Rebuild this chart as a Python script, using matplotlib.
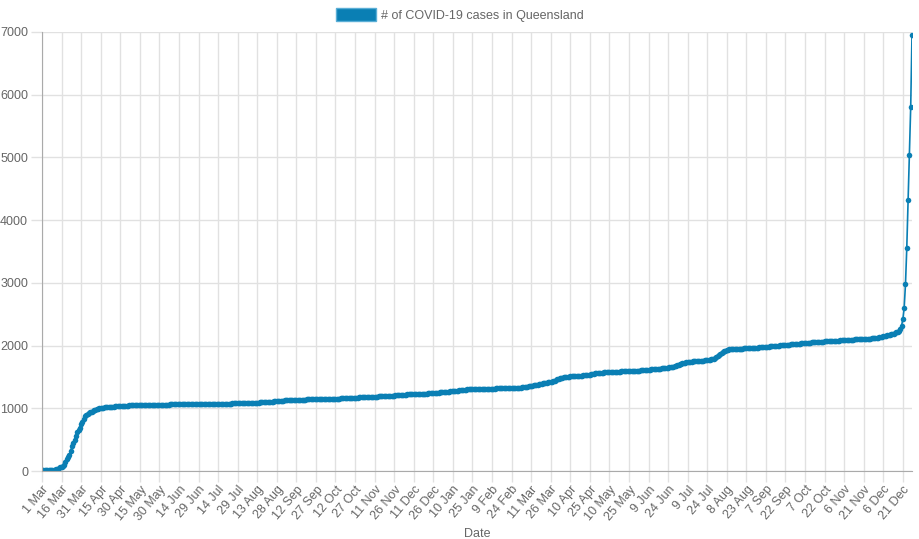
import numpy as np
import pandas as pd
import matplotlib
matplotlib.use('Agg')
import matplotlib.pyplot as plt

plt.rcParams['font.family'] = ['Liberation Sans', 'DejaVu Sans']

# 累计病例数 (每日), 2020-03-01 至 2021-12-28
cases_2020 = [
    # Mar
    9, 9, 10, 11, 13, 13, 15, 15, 15, 18, 20, 27, 35, 46, 61, 68, 78, 94, 144, 184, 221, 259, 319, 397, 443, 493, 555, 625, 656, 689, 743,
    # Apr
    781, 835, 873, 900, 907, 921, 934, 943, 953, 965, 974, 983, 987, 999, 1001, 1007, 1007, 1015, 1019, 1024, 1024, 1026, 1026, 1026, 1027, 1030, 1033, 1033, 1033, 1033,
    # May
    1034, 1035, 1035, 1035, 1038, 1043, 1045, 1045, 1051, 1052, 1054, 1054, 1054, 1055, 1056, 1056, 1056, 1057, 1057, 1057, 1057, 1058, 1058, 1058, 1058, 1058, 1058, 1058, 1058, 1058, 1058,
    # Jun
    1058, 1058, 1059, 1059, 1060, 1060, 1061, 1061, 1062, 1062, 1062, 1063, 1063, 1063, 1064, 1064, 1064, 1064, 1065, 1065, 1065, 1066, 1066, 1066, 1066, 1066, 1067, 1067, 1067, 1067,
    # Jul
    1067, 1067, 1067, 1068, 1068, 1068, 1069, 1069, 1070, 1070, 1070, 1071, 1071, 1071, 1072, 1072, 1073, 1073, 1074, 1074, 1075, 1075, 1076, 1076, 1077, 1077, 1078, 1078, 1078, 1079, 1080,
    # Aug
    1081, 1082, 1083, 1083, 1084, 1085, 1086, 1086, 1087, 1088, 1089, 1090, 1091, 1092, 1093, 1094, 1095, 1096, 1097, 1098, 1099, 1101, 1103, 1105, 1107, 1109, 1111, 1113, 1115, 1117, 1119,
    # Sep
    1121, 1123, 1125, 1127, 1128, 1129, 1130, 1131, 1132, 1133, 1134, 1135, 1136, 1137, 1138, 1139, 1139, 1140, 1140, 1141, 1141, 1142, 1142, 1143, 1143, 1144, 1144, 1145, 1145, 1146,
    # Oct
    1147, 1147, 1148, 1148, 1149, 1149, 1150, 1150, 1151, 1152, 1152, 1153, 1154, 1155, 1156, 1157, 1158, 1159, 1160, 1161, 1162, 1163, 1164, 1165, 1166, 1167, 1168, 1169, 1170, 1172, 1174,
    # Nov
    1175, 1176, 1177, 1178, 1179, 1180, 1181, 1182, 1183, 1184, 1185, 1186, 1187, 1188, 1189, 1190, 1191, 1192, 1193, 1194, 1195, 1196, 1197, 1198, 1200, 1202, 1204, 1206, 1208, 1210,
    # Dec
    1212, 1214, 1216, 1218, 1219, 1220, 1221, 1222, 1223, 1224, 1225, 1226, 1227, 1228, 1229, 1230, 1231, 1232, 1233, 1234, 1235, 1236, 1237, 1238, 1240, 1242, 1244, 1246, 1248, 1250, 1252,
]

cases_2021 = [
    # Jan
    1254, 1256, 1258, 1260, 1262, 1264, 1266, 1268, 1270, 1272, 1274, 1277, 1280, 1283, 1286, 1289, 1292, 1294, 1296, 1298, 1300, 1301, 1302, 1303, 1304, 1305, 1306, 1307, 1308, 1309, 1310,
    # Feb
    1310, 1311, 1311, 1312, 1312, 1313, 1313, 1314, 1314, 1315, 1315, 1316, 1316, 1317, 1317, 1318, 1318, 1319, 1319, 1320, 1320, 1321, 1321, 1322, 1323, 1324, 1325, 1326,
    # Mar
    1327, 1329, 1331, 1334, 1337, 1340, 1343, 1347, 1351, 1355, 1359, 1363, 1367, 1371, 1375, 1379, 1384, 1388, 1392, 1396, 1400, 1404, 1408, 1412, 1416, 1420, 1426, 1432, 1440, 1450, 1462,
    # Apr
    1470, 1478, 1485, 1490, 1494, 1498, 1501, 1503, 1505, 1507, 1509, 1510, 1512, 1514, 1515, 1516, 1518, 1520, 1522, 1524, 1526, 1528, 1530, 1532, 1535, 1540, 1546, 1552, 1556, 1560,
    # May
    1562, 1564, 1566, 1568, 1570, 1572, 1574, 1576, 1577, 1578, 1579, 1580, 1581, 1582, 1583, 1584, 1585, 1586, 1587, 1588, 1589, 1590, 1591, 1592, 1593, 1594, 1595, 1596, 1597, 1598, 1599,
    # Jun
    1600, 1602, 1604, 1606, 1608, 1610, 1612, 1614, 1616, 1618, 1620, 1622, 1624, 1626, 1628, 1630, 1632, 1634, 1636, 1638, 1640, 1642, 1645, 1648, 1651, 1655, 1660, 1666, 1672, 1680,
    # Jul
    1688, 1696, 1704, 1710, 1716, 1722, 1728, 1733, 1737, 1740, 1743, 1745, 1747, 1749, 1750, 1752, 1753, 1754, 1756, 1758, 1760, 1762, 1764, 1766, 1770, 1775, 1780, 1786, 1792, 1800, 1810,
    # Aug
    1826, 1845, 1865, 1882, 1897, 1910, 1920, 1928, 1934, 1938, 1940, 1942, 1944, 1946, 1948, 1949, 1950, 1951, 1952, 1953, 1954, 1955, 1956, 1957, 1958, 1959, 1960, 1961, 1962, 1964, 1966,
    # Sep
    1968, 1970, 1972, 1974, 1976, 1978, 1980, 1982, 1984, 1986, 1988, 1990, 1992, 1994, 1996, 1998, 2000, 2002, 2004, 2006, 2008, 2010, 2012, 2014, 2016, 2018, 2020, 2022, 2024, 2026,
    # Oct
    2028, 2030, 2032, 2034, 2036, 2038, 2040, 2042, 2044, 2046, 2048, 2050, 2052, 2054, 2056, 2058, 2059, 2060, 2061, 2062, 2064, 2066, 2068, 2069, 2070, 2071, 2072, 2073, 2074, 2075, 2076,
    # Nov
    2078, 2080, 2082, 2084, 2086, 2088, 2090, 2091, 2092, 2093, 2094, 2095, 2096, 2097, 2098, 2099, 2100, 2101, 2102, 2103, 2104, 2105, 2106, 2108, 2110, 2112, 2114, 2116, 2118, 2120,
    # Dec
    2124, 2128, 2132, 2136, 2140, 2146, 2152, 2158, 2164, 2170, 2175, 2180, 2186, 2192, 2200, 2210, 2222, 2240, 2270, 2320, 2418, 2604, 2977, 3561, 4321, 5034, 5800, 6960,
]

cases = cases_2020 + cases_2021
dates = pd.date_range('2020-03-01', periods=len(cases), freq='D')
labels = [f'{d.day} {d.strftime("%b")}' for d in dates]

color = '#0a7fb4'
grid_c = '#e1e1e1'
text_c = '#666666'

fig = plt.figure(figsize=(9.2, 5.39), dpi=100)
ax = fig.add_axes([42 / 920, 1 - 471 / 539, 870 / 920, 439 / 539])

x = np.arange(len(cases))
ax.plot(x, cases, color=color, linewidth=1.2, marker='o', markersize=4,
        markeredgewidth=0, label='# of COVID-19 cases in Queensland')

ax.set_xlim(0, len(cases) - 1)
ax.set_ylim(0, 7000)
ax.set_yticks(range(0, 7001, 1000))

tick_pos = x[::15]
ax.set_xticks(tick_pos)
ax.set_xticklabels([labels[i] for i in tick_pos], rotation=50, ha='right',
                   rotation_mode='anchor')

ax.grid(True, color=grid_c, linewidth=1)
ax.set_axisbelow(True)
for side in ['top', 'right']:
    ax.spines[side].set_visible(False)
for side in ['left', 'bottom']:
    ax.spines[side].set_color('#aaaaaa')
ax.tick_params(axis='both', colors=grid_c, labelcolor=text_c, labelsize=9,
               length=8, width=1)
ax.tick_params(axis='y', pad=2)
ax.tick_params(axis='x', pad=1)

ax.set_xlabel('Date', color=text_c, fontsize=9, labelpad=4)

handle = plt.Rectangle((0, 0), 1, 1, facecolor=color, edgecolor='#5aaed6', linewidth=1)
fig.legend([handle], ['# of COVID-19 cases in Queensland'], loc='upper center',
           bbox_to_anchor=(0.5, 1.0), frameon=False, fontsize=9,
           handlelength=3.2, handleheight=1.3, labelcolor=text_c,
           handletextpad=0.4, borderaxespad=0.2)

plt.savefig('out.png', dpi=100)
